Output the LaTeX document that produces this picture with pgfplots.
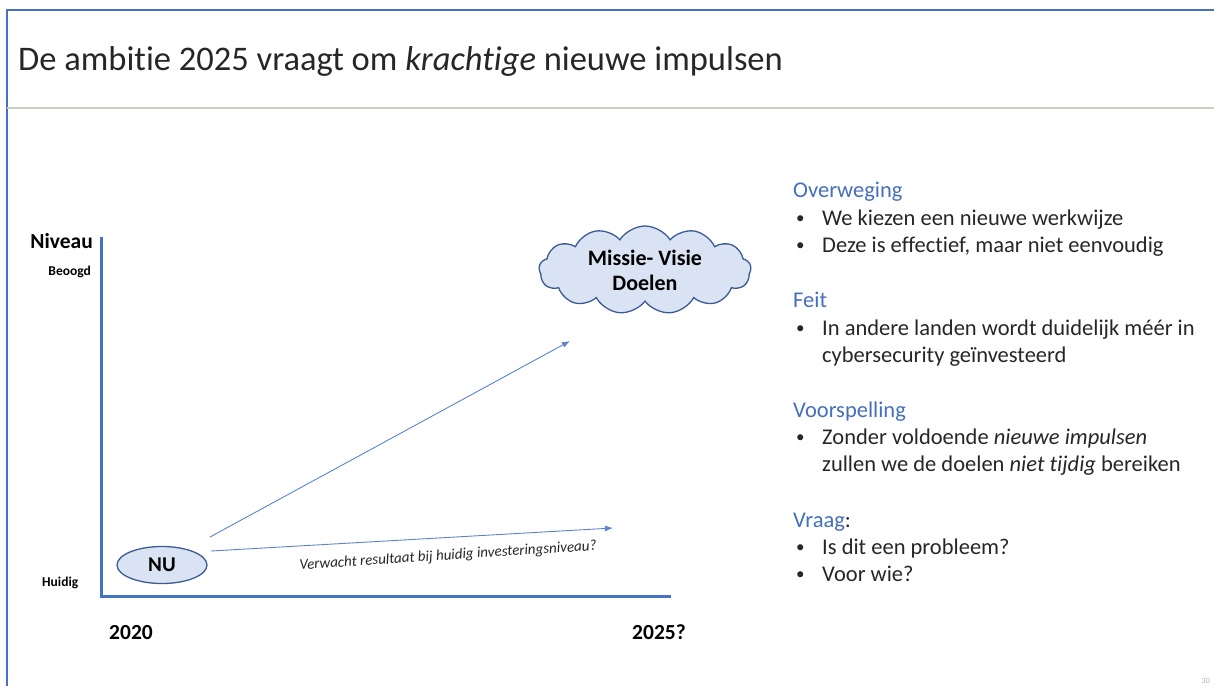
\documentclass[border=0pt]{standalone}
\usepackage{fontspec}
\setmainfont{Carlito}[Ligatures=NoCommon]
\usepackage{pgfplots}
\pgfplotsset{compat=1.18}
\usetikzlibrary{arrows.meta,shapes.symbols,shapes.geometric}
\definecolor{frameblue}{HTML}{4472C4}
\definecolor{sepgray}{RGB}{208,205,200}
\definecolor{arrowblue}{RGB}{90,130,205}
\definecolor{nufill}{HTML}{DAE3F3}
\definecolor{nuedge}{RGB}{60,90,150}
\definecolor{headblue}{RGB}{68,110,190}
\definecolor{bodytext}{RGB}{38,38,38}
\begin{document}
\begin{tikzpicture}
\begin{axis}[
  width=1214bp, height=686bp, scale only axis,
  xmin=0, xmax=1214, ymin=0, ymax=686, y dir=reverse,
  hide axis, clip=false,
]
\coordinate (SW) at (axis cs:0,686);
\coordinate (NE) at (axis cs:1214,0);
% slide frame
\addplot[frameblue, line width=2bp] coordinates {(7,686) (7,10) (1214,10)};
\addplot[sepgray, line width=2bp] coordinates {(7,108) (1214,108)};
% chart axes
\addplot[frameblue, line width=3bp] coordinates {(101.5,237) (101.5,596) (671,596)};
% arrows
\addplot[arrowblue, line width=0.9bp, -{Latex[length=8bp,width=6bp]}] coordinates {(210,537) (570,341)};
\addplot[arrowblue, line width=0.9bp, -{Latex[length=8bp,width=6bp]}] coordinates {(211,551) (613,528)};
% title
\node[anchor=base west, text=bodytext, inner sep=0pt] at (axis cs:18,71)
  {\fontsize{34.5bp}{40bp}\selectfont De ambitie 2025 vraagt om \textit{krachtige} nieuwe impulsen};
% axis labels
\node[anchor=base east, inner sep=0pt] at (axis cs:93,248) {\fontsize{21.5bp}{25bp}\selectfont\bfseries Niveau};
\node[anchor=base east, inner sep=0pt] at (axis cs:91,275) {\fontsize{13.5bp}{16bp}\selectfont\bfseries Beoogd};
\node[anchor=base west, inner sep=0pt] at (axis cs:42,586) {\fontsize{13.5bp}{16bp}\selectfont\bfseries Huidig};
\node[anchor=base west, inner sep=0pt] at (axis cs:109,639) {\fontsize{21.5bp}{25bp}\selectfont\bfseries 2020};
\node[anchor=base west, inner sep=0pt] at (axis cs:632,639) {\fontsize{21.5bp}{25bp}\selectfont\bfseries 2025?};
% NU ellipse
\node[ellipse, draw=nuedge, fill=nufill, line width=1.3bp, minimum width=90bp, minimum height=37bp, inner sep=0pt]
  at (axis cs:162,565) {\fontsize{21bp}{24bp}\selectfont\bfseries NU};
% cloud
\node[cloud, cloud puffs=13, cloud puff arc=115, aspect=2.4, draw=nuedge, fill=nufill, line width=1.3bp,
  minimum width=212bp, minimum height=88bp, inner sep=0pt, align=center,
  font=\fontsize{22bp}{25bp}\selectfont\bfseries]
  at (axis cs:645,270) {Missie- Visie\\Doelen};
% rotated caption
\node[rotate=3.8, inner sep=0pt, text=bodytext] at (axis cs:448,556)
  {\fontsize{15bp}{18bp}\selectfont\itshape Verwacht resultaat bij huidig investeringsniveau?};
% right text block
\begin{scope}[every node/.style={anchor=base west, inner sep=0pt, text=bodytext, font=\fontsize{22.5bp}{27bp}\selectfont}]
\node[text=headblue] at (axis cs:793,197) {Overweging};
\node at (axis cs:822,225) {We kiezen een nieuwe werkwijze};
\node at (axis cs:822,252) {Deze is effectief, maar niet eenvoudig};
\node[text=headblue] at (axis cs:793,307) {Feit};
\node at (axis cs:822,335) {In andere landen wordt duidelijk méér in};
\node at (axis cs:822,362) {cybersecurity geïnvesteerd};
\node[text=headblue] at (axis cs:793,417) {Voorspelling};
\node at (axis cs:822,444) {Zonder voldoende \textit{nieuwe impulsen}};
\node at (axis cs:822,471) {zullen we de doelen \textit{niet tijdig} bereiken};
\node at (axis cs:793,527) {\textcolor{headblue}{Vraag}:};
\node at (axis cs:822,554) {Is dit een probleem?};
\node at (axis cs:822,581) {Voor wie?};
\end{scope}
\begin{scope}[every node/.style={anchor=base west, inner sep=0pt, text=bodytext, font=\fontsize{17bp}{20bp}\selectfont}]
\node at (axis cs:796,223) {•};
\node at (axis cs:796,250) {•};
\node at (axis cs:796,333) {•};
\node at (axis cs:796,442) {•};
\node at (axis cs:796,552) {•};
\node at (axis cs:796,579) {•};
\end{scope}
\node[anchor=base east, inner sep=0pt, text=gray!60] at (axis cs:1210,683) {\fontsize{8bp}{9bp}\selectfont 30};
\end{axis}
\pgfresetboundingbox
\path[use as bounding box] (SW) rectangle (NE);
\end{tikzpicture}
\end{document}
